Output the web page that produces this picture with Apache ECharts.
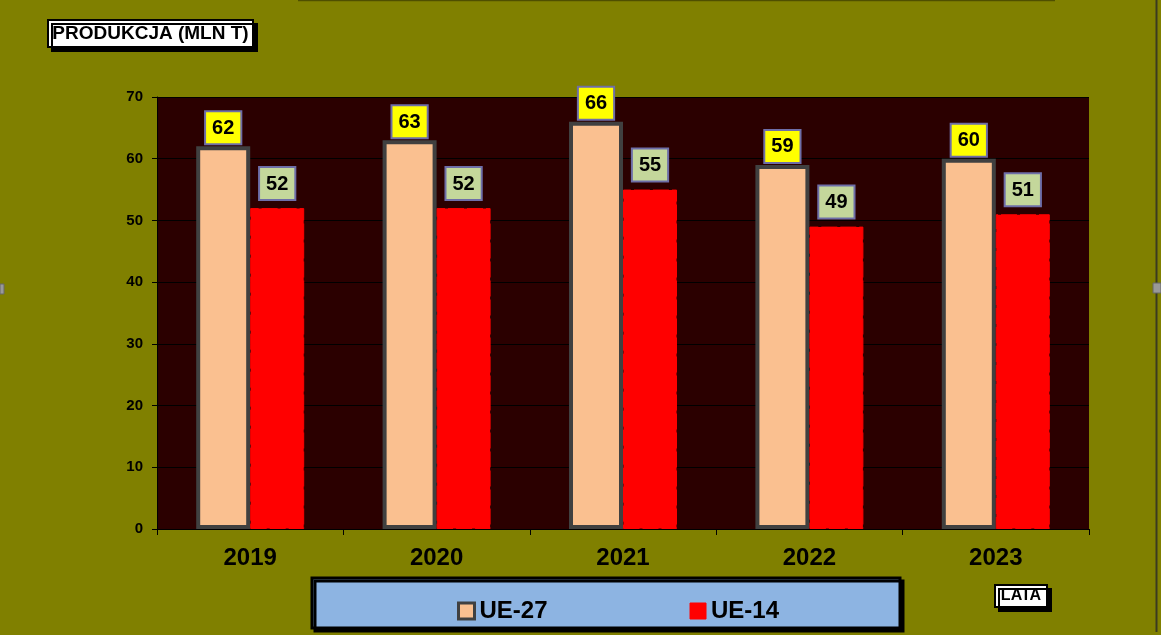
<!DOCTYPE html>
<html>
<head>
<meta charset="utf-8">
<title>Produkcja</title>
<script src="https://cdn.jsdelivr.net/npm/echarts@6/dist/echarts.min.js"></script>
<style>
  html, body { margin: 0; padding: 0; background: #808000; }
  #chart { width: 1161px; height: 635px; }
</style>
</head>
<body>
<div id="chart"></div>
<script>
const years = ['2019', '2020', '2021', '2022', '2023']
const ue27 = [62, 63, 66, 59, 60]
const ue14 = [52, 52, 55, 49, 51]
const yTicks = { min: 0, max: 70, interval: 10 }

const font = "Arial, 'Liberation Sans', sans-serif"

const chart = echarts.init(document.getElementById('chart'))

// ramka z etykietą (tytuł osi Y, LATA)
function labelBox(x, y, w, h, text, size) {
  return {
    type: 'rect',
    shape: { x: x, y: y, width: w, height: h },
    style: {
      fill: '#ffffff', stroke: '#000000', lineWidth: 2,
      shadowColor: '#000000', shadowOffsetX: 4, shadowOffsetY: 4, shadowBlur: 0
    },
    textContent: {
      style: {
        text: text, fill: '#000000',
        fontSize: size, fontWeight: 'bold', fontFamily: font
      }
    },
    textConfig: { position: 'inside' }
  }
}

chart.setOption({
  animation: false,
  backgroundColor: '#808000',
  textStyle: { fontFamily: font },
  grid: {
    left: 157,
    right: 72,
    top: 97,
    bottom: 106,
    show: true,
    backgroundColor: '#2b0000',
    borderWidth: 0
  },
  graphic: [
    {
      type: 'rect',
      z: -1,
      shape: { x: 312, y: 578, width: 588, height: 50 },
      style: {
        fill: '#8db4e2', stroke: '#000000', lineWidth: 3,
        shadowColor: '#000000', shadowOffsetX: 3, shadowOffsetY: 3, shadowBlur: 0
      }
    },
    labelBox(48, 20, 205, 27, 'PRODUKCJA (MLN T)', 19),
    labelBox(995, 585, 52, 22, 'LATA', 16),
    {
      type: 'line',
      shape: { x1: 298, y1: 0.5, x2: 1055, y2: 0.5 },
      style: { stroke: '#4f4f00', lineWidth: 1.5 }
    },
    {
      type: 'line',
      shape: { x1: 1156.5, y1: 0, x2: 1156.5, y2: 632 },
      style: { stroke: '#3a3a20', lineWidth: 2 }
    },
    {
      type: 'rect',
      shape: { x: 0, y: 284, width: 4, height: 10 },
      style: { fill: '#999999', stroke: '#666666', lineWidth: 1 }
    },
    {
      type: 'rect',
      shape: { x: 1153, y: 283, width: 8, height: 10 },
      style: { fill: '#999999', stroke: '#666666', lineWidth: 1 }
    }
  ],
  legend: {
    left: 452,
    top: 594,
    itemWidth: 16,
    itemHeight: 16,
    itemGap: 142,
    textStyle: { color: '#000000', fontSize: 24, fontWeight: 'bold', fontFamily: font },
    data: [
      { name: 'UE-27', icon: 'rect', itemStyle: { color: '#fac090', borderColor: '#404040', borderWidth: 3 } },
      { name: 'UE-14', icon: 'rect', itemStyle: { color: '#ff0000', borderColor: '#ff0000', borderWidth: 1 } }
    ]
  },
  xAxis: {
    type: 'category',
    data: years,
    axisLine: { lineStyle: { color: '#000000', width: 1 } },
    axisTick: { show: true, length: 6, lineStyle: { color: '#000000' } },
    axisLabel: { color: '#000000', fontSize: 24, fontWeight: 'bold', margin: 17 },
    splitLine: { show: false }
  },
  yAxis: {
    type: 'value',
    min: yTicks.min,
    max: yTicks.max,
    interval: yTicks.interval,
    axisLine: { show: true, lineStyle: { color: '#000000', width: 1 } },
    axisTick: { show: true, length: 5, lineStyle: { color: '#000000' } },
    axisLabel: { color: '#000000', fontSize: 15, fontWeight: 'bold', margin: 14 },
    splitLine: { show: true, lineStyle: { color: '#000000', width: 1 } }
  },
  series: [
    {
      name: 'UE-27',
      type: 'bar',
      data: ue27,
      barWidth: 54,
      barGap: '0%',
      itemStyle: { color: '#fac090', borderColor: '#404040', borderWidth: 4 },
      label: {
        show: true,
        position: 'top',
        distance: 3,
        color: '#000000',
        fontSize: 20,
        fontWeight: 'bold',
        lineHeight: 22,
        backgroundColor: '#ffff00',
        borderColor: '#6e6ea8',
        borderWidth: 2,
        padding: [5, 6, 4, 6]
      }
    },
    {
      name: 'UE-14',
      type: 'bar',
      data: ue14,
      barWidth: 54,
      barGap: '0%',
      itemStyle: { color: '#ff0000', borderColor: '#ff0000', borderWidth: 1, borderType: [16, 3] },
      label: {
        show: true,
        position: 'top',
        distance: 9,
        color: '#000000',
        fontSize: 20,
        fontWeight: 'bold',
        lineHeight: 22,
        backgroundColor: '#c4d79b',
        borderColor: '#6e6ea8',
        borderWidth: 2,
        padding: [5, 6, 4, 6]
      }
    }
  ]
})
</script>
</body>
</html>
